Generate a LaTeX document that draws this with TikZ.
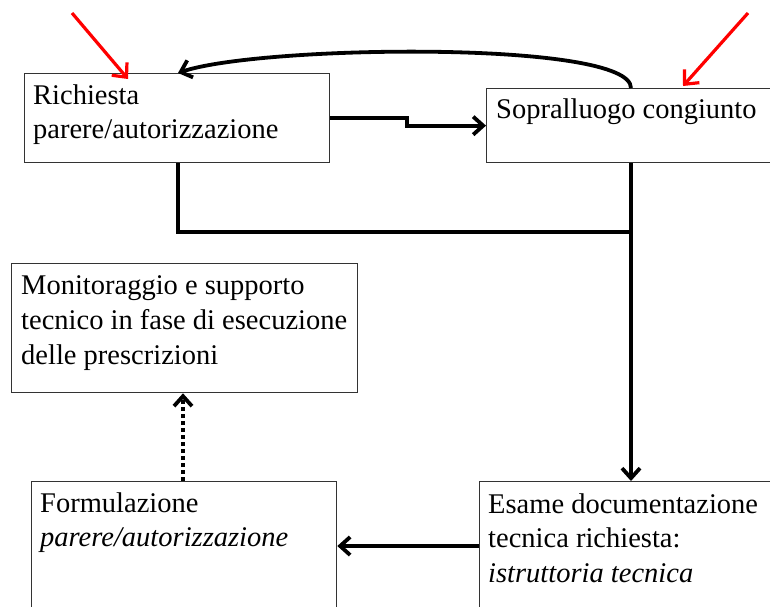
\documentclass[tikz,border=0pt]{standalone}
\usepackage{fontspec}
\setmainfont{Liberation Serif}
\usetikzlibrary{arrows.meta,calc}
\begin{document}
\begin{tikzpicture}[x=1pt,y=-1pt,
  box/.style={draw=black!80, line width=1.3pt, inner sep=0pt, anchor=north west},
  txt/.style={font=\fontsize{28.5}{34}\selectfont, align=left, anchor=base west, inner sep=0pt, text=black},
  link/.style={line width=3.8pt},
  conn/.style={line width=3.8pt, -{Straight Barb[length=10pt,width=18pt]}},
  dotconn/.style={line width=3.8pt, dash pattern=on 4pt off 3pt, -{Straight Barb[length=10pt,width=18pt]}},
  redarrow/.style={line width=3.2pt, red, -{Straight Barb[length=11pt,width=20pt]}}]
\useasboundingbox (0,0) rectangle (770,606);
\clip (0,0) rectangle (770,606);
% boxes
\node[box, minimum width=305pt, minimum height=89pt] (b1) at (24,73) {};
\node[box, minimum width=290pt, minimum height=74pt] (b2) at (486,88) {};
\node[box, minimum width=346pt, minimum height=129pt] (b3) at (11,263) {};
\node[box, minimum width=305pt, minimum height=160pt] (b4) at (31,481) {};
\node[box, minimum width=320pt, minimum height=160pt] (b5) at (479,481) {};
% texts (base anchor = baseline of last line)
\node[txt] (t1) at (33,138) {Richiesta\\parere/autorizzazione};
\node[txt] (t2) at (496,118) {Sopralluogo congiunto};
\node[txt, font=\fontsize{28.5}{35}\selectfont] (t3) at (21,364) {Monitoraggio e supporto\\tecnico in fase di esecuzione\\delle prescrizioni};
\node[txt] (t4) at (40,546) {Formulazione\\\textit{parere/autorizzazione}};
\node[txt, font=\fontsize{28.5}{34.5}\selectfont] (t5) at (488,582) {Esame documentazione\\tecnica richiesta:\\\textit{istruttoria tecnica}};
% connectors
\coordinate (j) at (631,232);
\coordinate (r1) at (72,13);
\coordinate (r2) at (748,13);
\draw[conn] (b1.east) -- ++(77,0) |- (b2.west);
\draw[conn] ($(b2.north west)+(145,0)$) .. controls (631,40) and (260,45) .. ($(b1.north west)+(154,0)$);
\draw[link] ($(b1.south west)+(154,0)$) |- (j);
\draw[conn] ($(b2.south west)+(145,0)$) -- ($(b5.north west)+(152,0)$);
\draw[conn] ($(b5.north west)+(0,65)$) -- ($(b4.north east)+(0,65)$);
\draw[dotconn] ($(b4.north west)+(152,0)$) -- ($(b3.south west)+(172,0)$);
\draw[redarrow] (r1) -- ($(b1.north west)+(104,6)$);
\draw[redarrow] (r2) -- ($(b2.north west)+(197,-2)$);
\end{tikzpicture}
\end{document}
